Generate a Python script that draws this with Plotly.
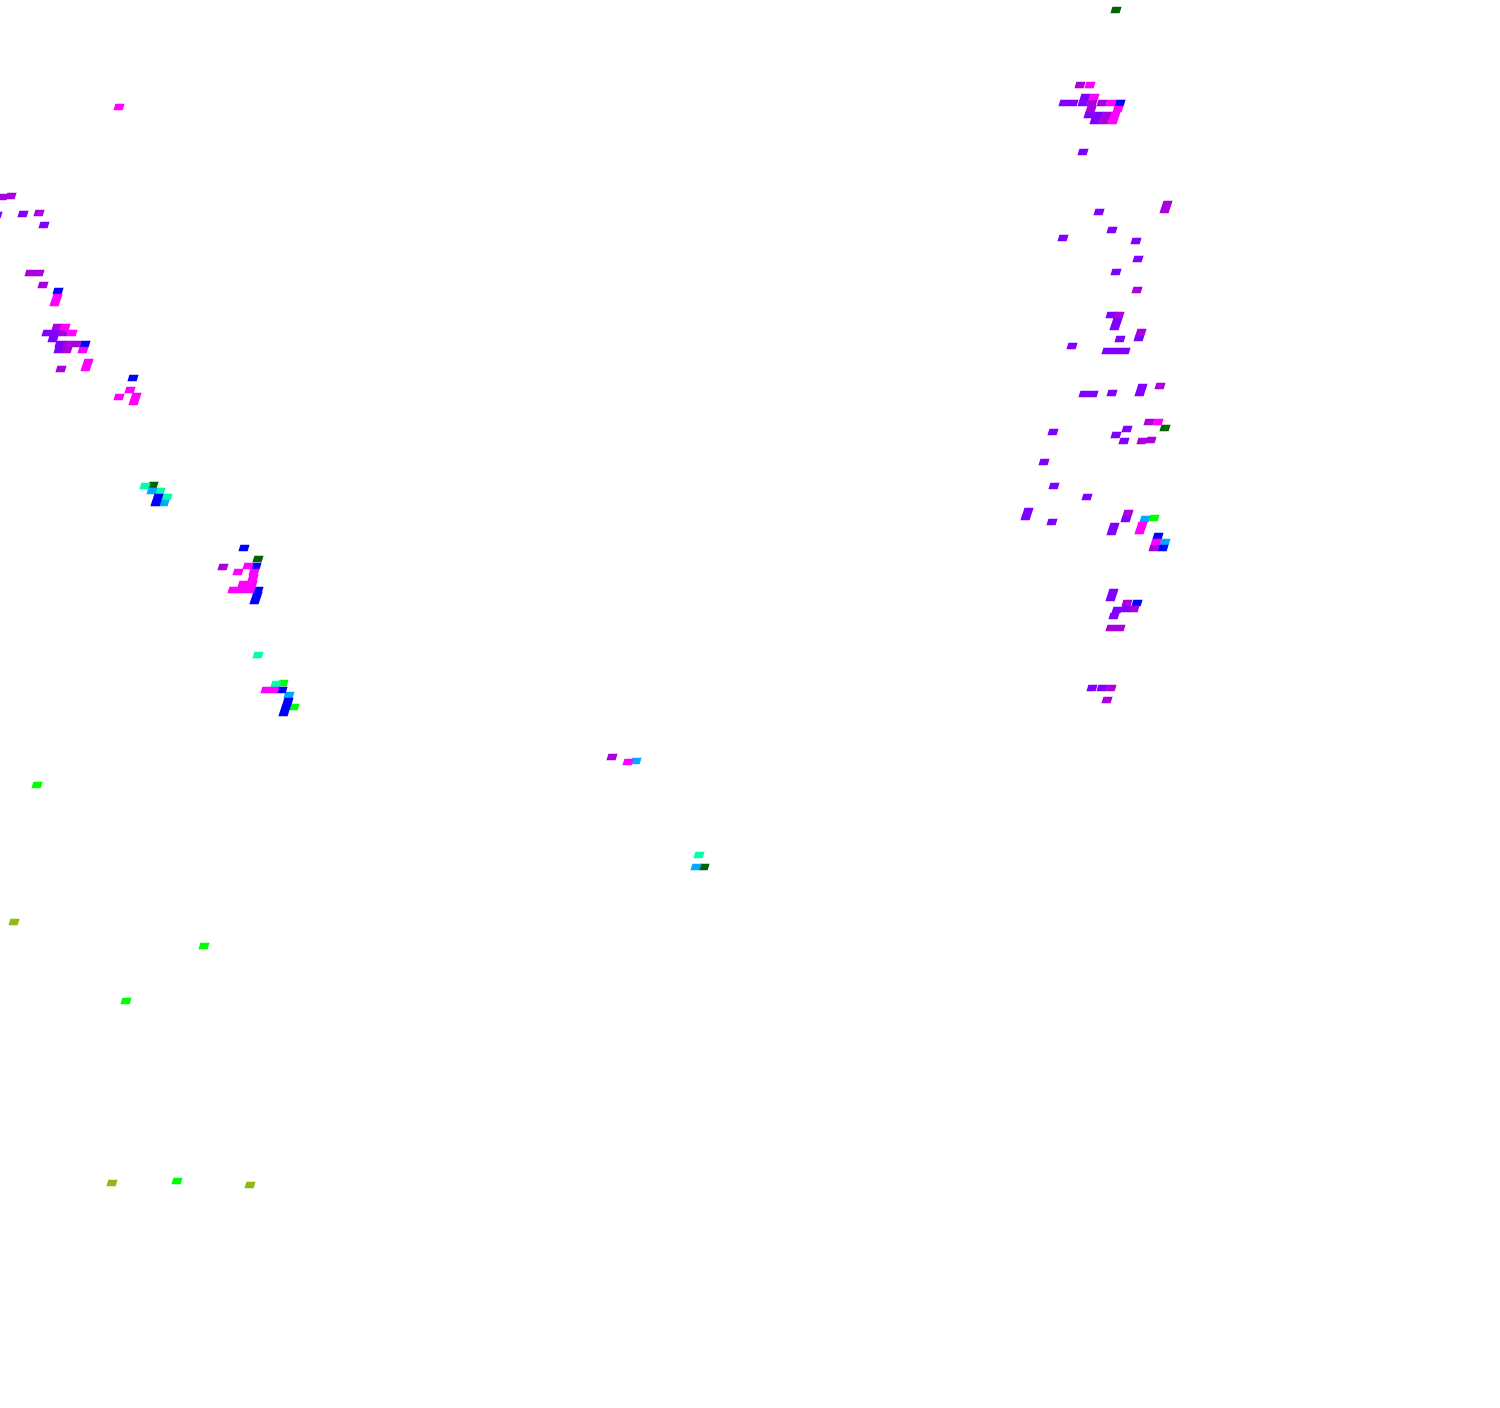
import plotly.graph_objects as go

# ------------------------------------------------------------
# data: cell centres per colour class
# ------------------------------------------------------------
DKGREEN_X = [1116, 1165, 153, 258, 704]
DKGREEN_Y = [10, 428, 485, 559, 867]

OLIVE_X = [14, 112, 250]
OLIVE_Y = [922, 1183, 1185]

GREEN_X = [1154, 283, 294, 37, 204, 126, 177]
GREEN_Y = [518, 683, 707, 785, 946, 1001, 1181]

TEAL_X = [145, 160, 167, 258, 276, 699]
TEAL_Y = [486, 491, 497, 655, 684, 855]

SKY_X = [1145, 1165, 152, 164, 289, 636, 696]
SKY_Y = [519, 542, 491, 503, 695, 761, 867]

BLUE_X = [1120, 1158, 1163, 1137, 85, 58, 133, 158, 156, 244, 256, 258, 257, 255, 282, 288, 286, 284]
BLUE_Y = [103, 536, 548, 603, 344, 291, 378, 497, 503, 548, 566, 590, 595, 601, 690, 701, 707, 713]

VIOLET_X = [1085, 1064, 1073, 1083, 1089, 1098, 1095, 1083,
            1099, 1112, 1063, 1136, 1138, 1116, 1111, 1117, 1115, 1139, 1120, 1072, 1107, 1116, 1125,
            1084, 1093, 1112, 1142, 1140, 1127, 1053, 1116, 1124, 1044, 1054, 1087, 1028, 1026, 1052,
            1126, 1114, 1112, 1113, 1111, 1117, 1126, 1114, 1092, 1102,
            -3, 23, 44, 47, 55, 53, 60, 59]
VIOLET_Y = [97, 103, 103, 103, 115, 115, 121, 152,
            212, 230, 238, 241, 259, 272, 315, 321, 327, 338, 339, 346, 351, 351, 351,
            394, 394, 393, 387, 393, 429, 432, 435, 441, 462, 486, 497, 511, 517, 522,
            519, 526, 532, 592, 598, 610, 609, 616, 688, 688,
            215, 214, 225, 333, 333, 339, 344, 350]

PURPLE_X = [1080, 1092, 1102, 1091, 1107, 1104, 1167, 1165, 1137, 1119, 1141, 1160, 1149, 1142, 1151,
            1128, 1154, 1127, 1134, 1111, 1120, 1111, 1107,
            3, 11, 39, 30, 39, 43, 57, 63, 68, 76, 67, 61, 223, 612]
PURPLE_Y = [85, 103, 103, 109, 115, 121, 204, 210, 290, 315, 332, 386, 422, 441, 440,
            513, 548, 603, 609, 628, 628, 688, 700,
            197, 196, 213, 273, 273, 285, 327, 333, 344, 344, 350, 369, 567, 757]

MAGENTA_X = [1090, 1094, 1111, 1118, 1115, 1113, 1158, 1142, 1140, 1156,
             119, 57, 55, 65, 72, 83, 88, 86, 130, 119, 136, 134,
             248, 254, 238, 253, 243, 252, 233, 242, 250, 266, 274, 628]
MAGENTA_Y = [85, 97, 103, 109, 115, 121, 422, 525, 531, 542,
             107, 297, 303, 327, 333, 350, 362, 368, 390, 397, 396, 402,
             566, 572, 572, 578, 584, 584, 590, 590, 590, 690, 690, 762]

LEVELS = [
    ("#006400", DKGREEN_X, DKGREEN_Y),
    ("#8fb915", OLIVE_X, OLIVE_Y),
    ("#00ff00", GREEN_X, GREEN_Y),
    ("#00ffaa", TEAL_X, TEAL_Y),
    ("#00aaff", SKY_X, SKY_Y),
    ("#0000ff", BLUE_X, BLUE_Y),
    ("#7f00ff", VIOLET_X, VIOLET_Y),
    ("#aa00dd", PURPLE_X, PURPLE_Y),
    ("#ff00ff", MAGENTA_X, MAGENTA_Y),
]

# cell footprint: slanted grid
CELL_W = 9.2
CELL_H = 6.3
SLANT = 1.0


def cell_outline(xs, ys):
    # closed parallelogram around each centre, None between cells
    px, py = [], []
    for x, y in zip(xs, ys):
        px += [x - CELL_W / 2 - SLANT, x + CELL_W / 2 - SLANT,
               x + CELL_W / 2 + SLANT, x - CELL_W / 2 + SLANT,
               x - CELL_W / 2 - SLANT, None]
        py += [y + CELL_H / 2, y + CELL_H / 2,
               y - CELL_H / 2, y - CELL_H / 2,
               y + CELL_H / 2, None]
    return px, py


fig = go.Figure()
for color, xs, ys in LEVELS:
    px, py = cell_outline(xs, ys)
    fig.add_trace(go.Scatter(
        x=px,
        y=py,
        mode="lines",
        fill="toself",
        fillcolor=color,
        line=dict(width=0, color=color),
        hoverinfo="skip",
        showlegend=False,
    ))

fig.update_layout(
    width=1500,
    height=1408,
    margin=dict(l=0, r=0, t=0, b=0),
    paper_bgcolor="white",
    plot_bgcolor="white",
    xaxis=dict(visible=False, range=[0, 1500]),
    yaxis=dict(visible=False, range=[1408, 0]),
)

fig.write_html(
    "out.html",
    config={"displayModeBar": False},
    post_script="document.body.style.margin='0';",
)
